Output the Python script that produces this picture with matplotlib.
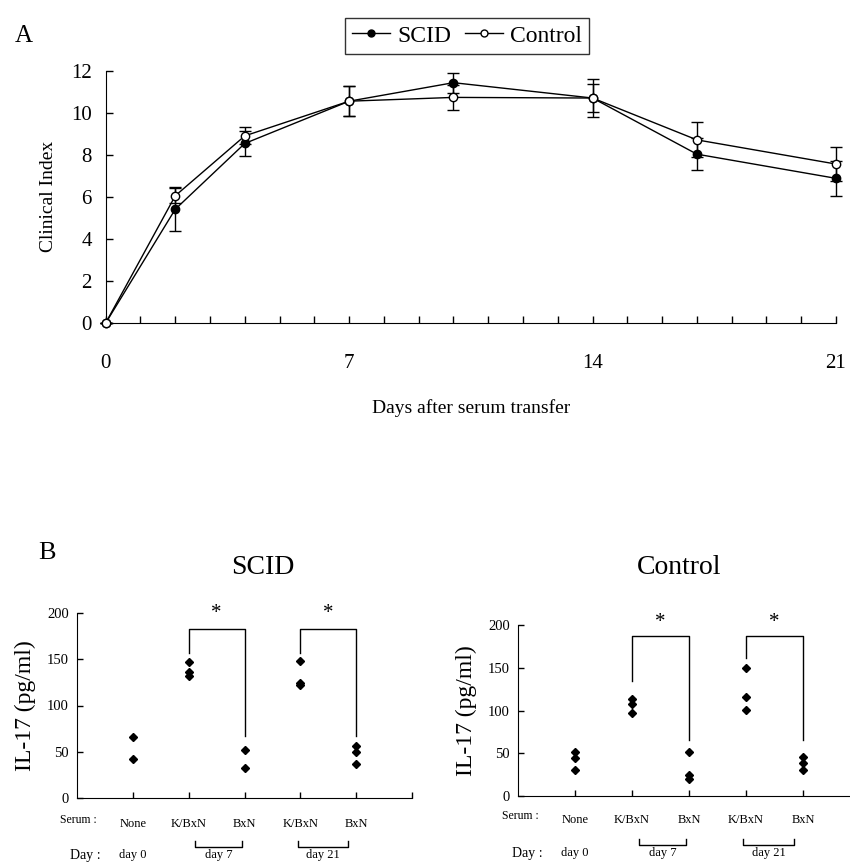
import matplotlib
matplotlib.use("Agg")
import matplotlib.pyplot as plt
from matplotlib.lines import Line2D
from matplotlib import transforms as mtrans

plt.rcParams['font.family'] = ['Liberation Serif', 'DejaVu Serif']

# ---- Panel A data ----
days = [0, 2, 4, 7, 10, 14, 17, 21]
scid_mean = [0, 5.41, 8.54, 10.55, 11.43, 10.7, 8.03, 6.88]
scid_err = [0, 1.04, 0.6, 0.7, 0.48, 0.9, 0.76, 0.84]
ctrl_mean = [0, 6.05, 8.9, 10.55, 10.73, 10.7, 8.71, 7.56]
ctrl_err = [0, 0.35, 0.4, 0.7, 0.6, 0.65, 0.83, 0.81]
x_ticks_A = [0, 7, 14, 21]
y_ticks_A = [0, 2, 4, 6, 8, 10, 12]

# ---- Panel B data ----
serum_labels = ["None", "K/BxN", "BxN", "K/BxN", "BxN"]
day_labels = ["day 0", "day 7", "day 21"]
scid_il17 = [[66, 42], [147, 136, 132], [52, 32], [148, 124, 122], [56, 50, 37]]
ctrl_il17 = [[52, 45, 30], [113, 108, 97], [51, 24, 20], [150, 116, 101], [46, 39, 30]]
y_ticks_B = [0, 50, 100, 150, 200]

W, H = 850, 865
fig = plt.figure(figsize=(W / 100, H / 100), dpi=100)


def ax_px(left, top, right, bottom):
    return fig.add_axes([left / W, 1 - bottom / H, (right - left) / W, (bottom - top) / H])


def fy(y):
    return 1 - y / H


# ================= Panel A =================
axA = ax_px(105.7, 70.7, 836, 323)
for mean, err, fc in [(scid_mean, scid_err, 'black'), (ctrl_mean, ctrl_err, 'white')]:
    axA.errorbar(days, mean, yerr=err, color='black', lw=1.0, elinewidth=1.0,
                 capsize=4, capthick=1.0, marker='o', markersize=6,
                 markerfacecolor=fc, markeredgecolor='black', markeredgewidth=1.0,
                 clip_on=False, zorder=3)
axA.set_xlim(0, 21)
axA.set_ylim(0, 12)
axA.set_xticks(x_ticks_A)
axA.set_xticks(range(0, 22), minor=True)
axA.set_yticks(y_ticks_A)
for s in ['top', 'right']:
    axA.spines[s].set_visible(False)
axA.tick_params(axis='both', which='both', direction='in', length=5, width=1)
axA.tick_params(axis='x', which='major', pad=22, labelsize=15)
axA.tick_params(axis='y', which='major', pad=10, labelsize=15)
axA.set_xlabel("Days after serum transfer", fontsize=14, labelpad=19)
axA.set_ylabel("Clinical Index", fontsize=14, labelpad=10)

handles = [
    Line2D([], [], color='black', lw=1, marker='o', markersize=5,
           markerfacecolor='black', markeredgecolor='black'),
    Line2D([], [], color='black', lw=1, marker='o', markersize=5,
           markerfacecolor='white', markeredgecolor='black'),
]
leg = fig.legend(handles, ["SCID", "Control"], loc='center',
                 bbox_to_anchor=(467 / W, fy(36)), ncol=2, fontsize=17,
                 frameon=True, fancybox=False, edgecolor='black',
                 handlelength=1.6, handletextpad=0.3, columnspacing=0.6,
                 borderpad=0.3)
leg.get_frame().set_linewidth(1.0)

fig.text(15 / W, fy(36), "A", fontsize=18, ha='left', va='center')

# ================= Panel B =================
fig.text(38 / W, fy(553), "B", fontsize=19, ha='left', va='center')


def panel_B(ax, data, brackets, star_y, title, title_x, serum_y, day_y, xmax,
            serum_x, day_x):
    for i, vals in enumerate(data):
        ax.plot([i + 1] * len(vals), vals, linestyle='none', marker='D',
                markersize=4.5, color='black', clip_on=False, zorder=3)
    ax.set_xlim(0, xmax)
    ax.set_ylim(0, 200)
    ax.set_yticks(y_ticks_B)
    ax.set_xticks([1, 2, 3, 4, 5, 6] if xmax >= 6 else [1, 2, 3, 4, 5])
    ax.set_xticklabels([])
    for s in ['top', 'right']:
        ax.spines[s].set_visible(False)
    ax.tick_params(axis='both', direction='in', length=4, width=1)
    ax.tick_params(axis='y', labelsize=10.5, pad=6)
    ax.set_ylabel("IL-17 (pg/ml)", fontsize=17, labelpad=8)
    for (xl, yl, xr, yr, ytop) in brackets:
        ax.plot([xl, xl, xr, xr], [yl, ytop, ytop, yr], color='black', lw=1,
                clip_on=False)
        ax.text((xl + xr) / 2, star_y, "*", ha='center', va='center',
                fontsize=15)
    tr = mtrans.blended_transform_factory(ax.transData, fig.transFigure)
    fig.text(title_x / W, fy(567), title, fontsize=20, ha='center', va='center')
    ax.text(serum_x, fy(serum_y), "Serum :", transform=tr, fontsize=8.5,
            ha='center', va='center')
    ax.text(day_x, fy(day_y), "Day :", transform=tr, fontsize=10,
            ha='center', va='center')
    for i, lab in enumerate(serum_labels):
        ax.text(i + 1, fy(serum_y + 4), lab, transform=tr, fontsize=9,
                ha='center', va='center')
    ax.text(1, fy(day_y), day_labels[0], transform=tr, fontsize=9,
            ha='center', va='center')
    for (a, b), lab in zip([(2.12, 2.95), (3.95, 4.85)], day_labels[1:]):
        yb, yt = fy(day_y - 8), fy(day_y - 14)
        ax.plot([a, a, b, b], [yt, yb, yb, yt], transform=tr, color='black',
                lw=1, clip_on=False)
        ax.text((a + b) / 2, fy(day_y), lab, transform=tr, fontsize=9,
                ha='center', va='center')


axS = ax_px(77, 613, 412, 798)
panel_B(axS, scid_il17,
        [(2, 157, 3, 67, 183), (4, 157, 5, 67, 183)], 200,
        "SCID", 263, 820, 855, 6.0, 0.02, 0.14)

axC = ax_px(518, 625, 849, 796)
panel_B(axC, ctrl_il17,
        [(2, 134, 3, 65.5, 187.5), (4, 161, 5, 65.5, 187.5)], 203,
        "Control", 679, 816, 853, (849 - 518) / 57.0, 0.05, 0.16)

fig.savefig("out.png", dpi=100)
